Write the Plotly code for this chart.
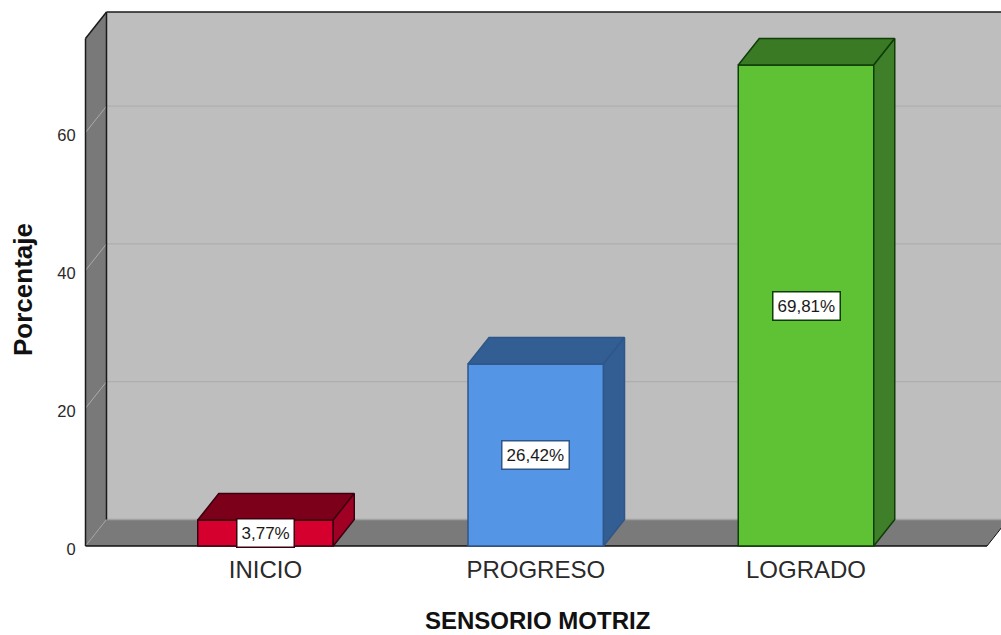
import plotly.graph_objects as go

categories = ["INICIO", "PROGRESO", "LOGRADO"]
values = [3.77, 26.42, 69.81]
labels = ["3,77%", "26,42%", "69,81%"]
y_ticks = [0, 20, 40, 60]
front_colors = ["#D6002F", "#5595E6", "#5EC234"]
top_colors = ["#7C0019", "#335E94", "#3A7A25"]
side_colors = ["#A00024", "#335E94", "#3F7F2A"]
edge_colors = ["#3A0010", "#2F5688", "#0E3D06"]

# plot geometry: pixels per unit on both scales
PX_X, PX_Y = 270.25, 6.89
X0_PX, Y0_PX = 265.5, 546.0
L_PX, R_PX, T_PX, B_PX = 84, 1001, 5, 548
x_range = [(L_PX - X0_PX) / PX_X, (R_PX - X0_PX) / PX_X]
y_range = [(Y0_PX - B_PX) / PX_Y, (Y0_PX - T_PX) / PX_Y]
DX, DY = 21 / PX_X, 26.5 / PX_Y
BAR_W = 135.5 / PX_X
WALL_L = (85.5 - X0_PX) / PX_X
FLOOR_R = (987 - X0_PX) / PX_X
WALL_TOP = (Y0_PX - 12) / PX_Y - DY
WALL_R = x_range[1] + DX


def poly(xs, ys, fill, line=None, width=0):
    path = "M " + " L ".join(f"{x},{y}" for x, y in zip(xs, ys)) + " Z"
    return dict(type="path", xref="x", yref="y", path=path, fillcolor=fill, layer="below",
                line=dict(color=line or fill, width=width))


def seg(x0, y0, x1, y1, color, width):
    return dict(type="line", xref="x", yref="y", x0=x0, y0=y0, x1=x1, y1=y1, layer="below",
                line=dict(color=color, width=width))


shapes = [
    poly([WALL_L + DX, WALL_R, WALL_R, WALL_L + DX], [DY, DY, WALL_TOP + DY, WALL_TOP + DY], "#BEBEBE"),
    poly([WALL_L, WALL_L + DX, WALL_L + DX, WALL_L], [0, DY, WALL_TOP + DY, WALL_TOP], "#797979"),
    poly([WALL_L, FLOOR_R, FLOOR_R + DX, WALL_L + DX], [0, 0, DY, DY], "#7A7A7A"),
]
for t in y_ticks[1:]:
    shapes.append(seg(WALL_L + DX, t + DY, WALL_R, t + DY, "#ABABAB", 1))
    shapes.append(seg(WALL_L, t, WALL_L + DX, t + DY, "#ABABAB", 1))
shapes += [
    seg(WALL_L, 0, WALL_L + DX, DY, "#A0A0A0", 1),
    seg(WALL_L + DX, DY, FLOOR_R + DX, DY, "#A2A2A2", 1.5),
    seg(WALL_L + DX, DY, WALL_L + DX, WALL_TOP + DY, "#1A1A1A", 1.5),
    seg(WALL_L, 0, WALL_L, WALL_TOP, "#1A1A1A", 1.5),
    seg(WALL_L, WALL_TOP, WALL_L + DX, WALL_TOP + DY, "#1A1A1A", 1.5),
    seg(WALL_L + DX, WALL_TOP + DY, WALL_R, WALL_TOP + DY, "#1A1A1A", 1.5),
    seg(WALL_L, 0, FLOOR_R, 0, "#111111", 1.5),
    seg(FLOOR_R, 0, FLOOR_R + DX, DY, "#111111", 1),
]

positions = list(range(len(categories)))
fig = go.Figure()
fig.add_trace(go.Bar(
    x=positions, y=values, width=BAR_W,
    marker=dict(color=front_colors, line=dict(color=edge_colors, width=1.5)),
    hoverinfo="skip", showlegend=False,
))
for p, v, tc, sc, ec in zip(positions, values, top_colors, side_colors, edge_colors):
    xl, xr = p - BAR_W / 2, p + BAR_W / 2
    fig.add_trace(go.Scatter(
        x=[xl, xr, xr + DX, xl + DX, xl], y=[v, v, v + DY, v + DY, v],
        mode="lines", fill="toself", fillcolor=tc, line=dict(color=ec, width=1.5),
        hoverinfo="skip", showlegend=False,
    ))
    fig.add_trace(go.Scatter(
        x=[xr, xr + DX, xr + DX, xr, xr], y=[0, DY, v + DY, v, 0],
        mode="lines", fill="toself", fillcolor=sc, line=dict(color=ec, width=1.5),
        hoverinfo="skip", showlegend=False,
    ))

annotations = [
    dict(x=p, y=v / 2, xref="x", yref="y", text=t, showarrow=False,
         font=dict(family="Liberation Sans", size=17, color="#1A1A1A"),
         bgcolor="white", bordercolor=ec, borderwidth=1.5, borderpad=4)
    for p, v, t, ec in zip(positions, values, labels, edge_colors)
]
annotations += [
    dict(x=(537 - L_PX) / (R_PX - L_PX), y=(B_PX - 620) / (B_PX - T_PX), xref="paper", yref="paper",
         text="<b>SENSORIO MOTRIZ</b>", showarrow=False, xanchor="center", yanchor="middle",
         font=dict(family="Liberation Sans", size=24, color="#111111")),
    dict(x=(23 - L_PX) / (R_PX - L_PX), y=(B_PX - 290) / (B_PX - T_PX), xref="paper", yref="paper",
         text="<b>Porcentaje</b>", textangle=-90, showarrow=False, xanchor="center", yanchor="middle",
         font=dict(family="Liberation Sans", size=26, color="#111111")),
]

fig.update_layout(
    width=1001, height=635, autosize=False,
    margin=dict(l=L_PX, r=1001 - R_PX, t=T_PX, b=635 - B_PX, pad=0),
    paper_bgcolor="white", plot_bgcolor="white",
    shapes=shapes, annotations=annotations, showlegend=False,
    xaxis=dict(range=x_range, tickmode="array", tickvals=positions, ticktext=categories,
               showgrid=False, zeroline=False, showline=False,
               ticks="outside", ticklen=0, tickcolor="rgba(0,0,0,0)",
               tickfont=dict(family="Liberation Sans", size=24, color="#2A2A2A")),
    yaxis=dict(range=y_range, tickmode="array", tickvals=y_ticks,
               showgrid=False, zeroline=False, showline=False,
               ticks="outside", ticklen=4, tickcolor="rgba(0,0,0,0)", ticklabelshift=3,
               tickfont=dict(family="Liberation Sans", size=16.5, color="#2A2A2A")),
)
fig.write_html("out.html", config={"displayModeBar": False},
               post_script="document.body.style.margin='0';document.documentElement.style.overflow='hidden';")
